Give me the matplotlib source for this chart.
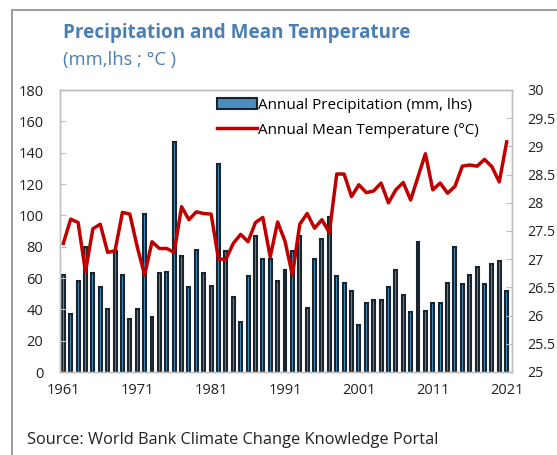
import numpy as np
import matplotlib.pyplot as plt
from matplotlib.patches import Rectangle

plt.rcParams['font.family'] = ['Open Sans', 'DejaVu Sans']

# .---------------------------------------------------------------------------.
# Data

years = list(range(1961, 2022))

precip = [62, 37, 58, 80, 63, 54, 40, 77, 62, 34,
          40, 101, 35, 63, 64, 147, 74, 54, 78, 63,
          55, 133, 77, 48, 32, 61, 87, 72, 72, 58,
          65, 77, 87, 41, 72, 85, 99, 61, 57, 52,
          30, 44, 46, 46, 54, 65, 49, 38, 83, 39,
          44, 44, 57, 80, 56, 62, 67, 56, 69, 71,
          52]

temp = [27.28, 27.71, 27.65, 26.78, 27.54, 27.62, 27.12, 27.15, 27.83, 27.80,
        27.22, 26.72, 27.31, 27.19, 27.19, 27.12, 27.93, 27.70, 27.84, 27.81,
        27.80, 27.00, 27.00, 27.28, 27.44, 27.31, 27.65, 27.74, 27.04, 27.66,
        27.32, 26.72, 27.62, 27.81, 27.55, 27.70, 27.47, 28.51, 28.51, 28.11,
        28.32, 28.18, 28.21, 28.35, 28.00, 28.23, 28.36, 28.05, 28.46, 28.87,
        28.23, 28.35, 28.17, 28.29, 28.65, 28.67, 28.65, 28.77, 28.64, 28.37,
        29.08]

xticks = [1961, 1971, 1981, 1991, 2001, 2011, 2021]
left_ticks = list(range(0, 181, 20))
right_ticks = [25, 25.5, 26, 26.5, 27, 27.5, 28, 28.5, 29, 29.5, 30]

colors = {'bar'   : '#4a8fc0',
          'edge'  : '#18252f',
          'red'   : '#c00000',
          'title' : '#4a7fb5',
          'spine' : '#bfbfbf',
          'text'  : '#222222',
         }

# .---------------------------------------------------------------------------.

fig = plt.figure(figsize=(5.57, 4.55), dpi=100)

# outer gray frame (right/bottom run off the picture)
fig.patches.append(Rectangle((12 / 557, -0.1), 1.2, 1 - 10 / 455 + 0.1,
                             transform=fig.transFigure, fill=False,
                             edgecolor='#8c8c8c', linewidth=1.2))

ax = fig.add_axes([60 / 557, 1 - 372 / 455, 452 / 557, 282 / 455])
ax2 = ax.twinx()

bars = ax.bar(years, precip, width=0.4, color=colors['bar'],
              edgecolor=colors['edge'], linewidth=1.5,
              label='Annual Precipitation (mm, lhs)')
line, = ax2.plot(years, temp, color=colors['red'], linewidth=2.5,
                 label='Annual Mean Temperature (°C)')

ax.set_xlim(1960.55, 2021.72)
ax.set_ylim(0, 180)
ax2.set_ylim(25, 30)

ax.set_xticks(xticks)
ax.set_yticks(left_ticks)
ax2.set_yticks(right_ticks)
ax2.set_yticklabels([('%g' % t) for t in right_ticks])

for a in (ax, ax2):
    for s in a.spines.values():
        s.set_color(colors['spine'])
        s.set_linewidth(1.0)

ax.tick_params(axis='y', direction='in', length=4, color=colors['spine'],
               labelsize=10.5, labelcolor=colors['text'], pad=12)
ax.tick_params(axis='x', length=0, labelsize=10.5, labelcolor=colors['text'], pad=8)
ax2.tick_params(axis='y', direction='in', length=4, color=colors['spine'],
                labelsize=10.3, labelcolor=colors['text'], pad=11)

ax.legend(handles=[bars, line], loc='upper left', bbox_to_anchor=(0.33, 1.0),
          frameon=False, fontsize=11, handlelength=2.6, handletextpad=0.1,
          labelspacing=0.65, borderaxespad=0.1)

fig.text(63 / 557, 1 - 33 / 455, 'Precipitation and Mean Temperature',
         color=colors['title'], fontsize=13.6, fontweight='bold', va='center')
fig.text(63 / 557, 1 - 60 / 455, '(mm,lhs ; °C )',
         color=colors['title'], fontsize=13.2, va='center')
fig.text(27 / 557, 1 - 440 / 455, 'Source: World Bank Climate Change Knowledge Portal',
         color=colors['text'], fontsize=11.8, va='center')

fig.savefig('out.png', dpi=100)
